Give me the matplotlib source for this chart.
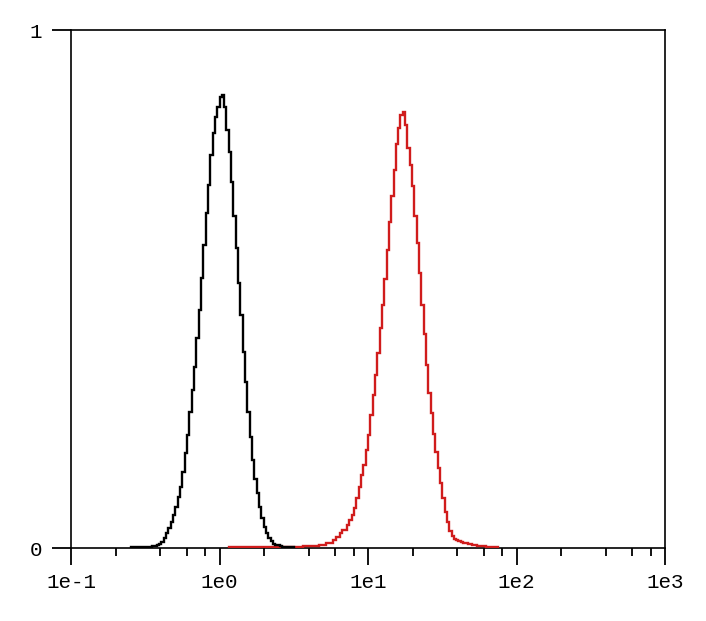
import matplotlib
matplotlib.use("Agg")
import matplotlib.pyplot as plt
import numpy as np
from matplotlib.ticker import LogLocator, NullFormatter

# 256 log channels spanning 1e-1 .. 1e3, heights normalised to the y range 0..1
N_BINS = 256
X_MIN, X_MAX = 0.1, 1000.0

X_TICKS = [0.1, 1.0, 10.0, 100.0, 1000.0]
X_TICK_LABELS = ["1e-1", "1e0", "1e1", "1e2", "1e3"]
Y_TICKS = [0, 1]
Y_TICK_LABELS = ["0", "1"]

# control sample (black), first channel with counts
BLACK_START = 26
black_counts = [
    0.001, 0.001, 0.001, 0.001, 0.001, 0.001, 0.001,
    0.002, 0.002, 0.003, 0.003, 0.005, 0.007,
    0.012, 0.019, 0.028, 0.038, 0.051, 0.064, 0.080, 0.099, 0.118, 0.147,
    0.183, 0.218, 0.263, 0.305, 0.350, 0.405, 0.459, 0.521, 0.585, 0.646,
    0.701, 0.759, 0.801, 0.833, 0.852, 0.871, 0.875, 0.852, 0.807, 0.765,
    0.707, 0.640, 0.579, 0.511, 0.450, 0.379, 0.321, 0.263, 0.215, 0.170,
    0.134, 0.106, 0.080, 0.057, 0.041, 0.028, 0.020, 0.014, 0.008, 0.006,
    0.005, 0.003, 0.002, 0.002, 0.001, 0.001, 0.001,
]

# stained sample (red)
RED_START = 68
red_counts = [
    0.001, 0.001, 0.001, 0.001, 0.001, 0.001, 0.001, 0.001, 0.001, 0.001,
    0.001, 0.001, 0.001, 0.001, 0.001, 0.001, 0.001, 0.001, 0.001, 0.001,
    0.001, 0.001, 0.001, 0.001, 0.001, 0.001, 0.001, 0.001,
    0.002, 0.002, 0.002, 0.002,
    0.003, 0.003, 0.003, 0.003,
    0.004, 0.004, 0.004,
    0.006, 0.006, 0.006,
    0.010, 0.010, 0.010,
    0.015, 0.022, 0.022, 0.028, 0.035, 0.035, 0.044, 0.054, 0.064, 0.077,
    0.096, 0.118, 0.141, 0.160, 0.189, 0.218, 0.257, 0.295, 0.334, 0.376,
    0.425, 0.470, 0.520, 0.575, 0.630, 0.680, 0.730, 0.780, 0.810, 0.835,
    0.842, 0.817, 0.772, 0.739, 0.698, 0.640, 0.588, 0.530, 0.469, 0.414,
    0.353, 0.300, 0.260, 0.220, 0.185, 0.155, 0.125, 0.097, 0.070, 0.050,
    0.033, 0.024, 0.018, 0.015, 0.013, 0.011, 0.010, 0.009, 0.008, 0.007,
    0.006, 0.005, 0.004, 0.004, 0.003, 0.003, 0.002, 0.002, 0.002, 0.001, 0.001,
]


def main():
    plt.rcParams["font.family"] = ["Liberation Mono", "DejaVu Sans Mono"]

    edges = np.logspace(np.log10(X_MIN), np.log10(X_MAX), N_BINS + 1)

    fig = plt.figure(figsize=(7.06, 6.21), dpi=100)
    ax = fig.add_axes([71 / 706, 73 / 621, 594 / 706, 518 / 621])

    series = [
        (RED_START, red_counts, "#d01c1c"),
        (BLACK_START, black_counts, "#000000"),
    ]
    for start, counts, color in series:
        ax.stairs(counts, edges[start:start + len(counts) + 1],
                  color=color, linewidth=1.7, zorder=3)

    ax.set_xscale("log")
    ax.set_xlim(X_MIN, X_MAX)
    ax.set_ylim(0, 1)

    ax.set_xticks(X_TICKS, labels=X_TICK_LABELS)
    ax.xaxis.set_minor_locator(LogLocator(base=10, subs=[2, 4, 6, 8]))
    ax.xaxis.set_minor_formatter(NullFormatter())
    ax.set_yticks(Y_TICKS, labels=Y_TICK_LABELS)
    ax.yaxis.set_minor_locator(plt.NullLocator())

    ax.tick_params(axis="x", which="major", direction="out",
                   length=12, width=1.3, pad=6, labelsize=15)
    ax.tick_params(axis="x", which="minor", direction="out",
                   length=6, width=1.3)
    ax.tick_params(axis="y", direction="out", length=14, width=1.3,
                   pad=7, labelsize=15)

    for spine in ax.spines.values():
        spine.set_linewidth(1.2)

    fig.savefig("out.png", dpi=100)


if __name__ == "__main__":
    main()
